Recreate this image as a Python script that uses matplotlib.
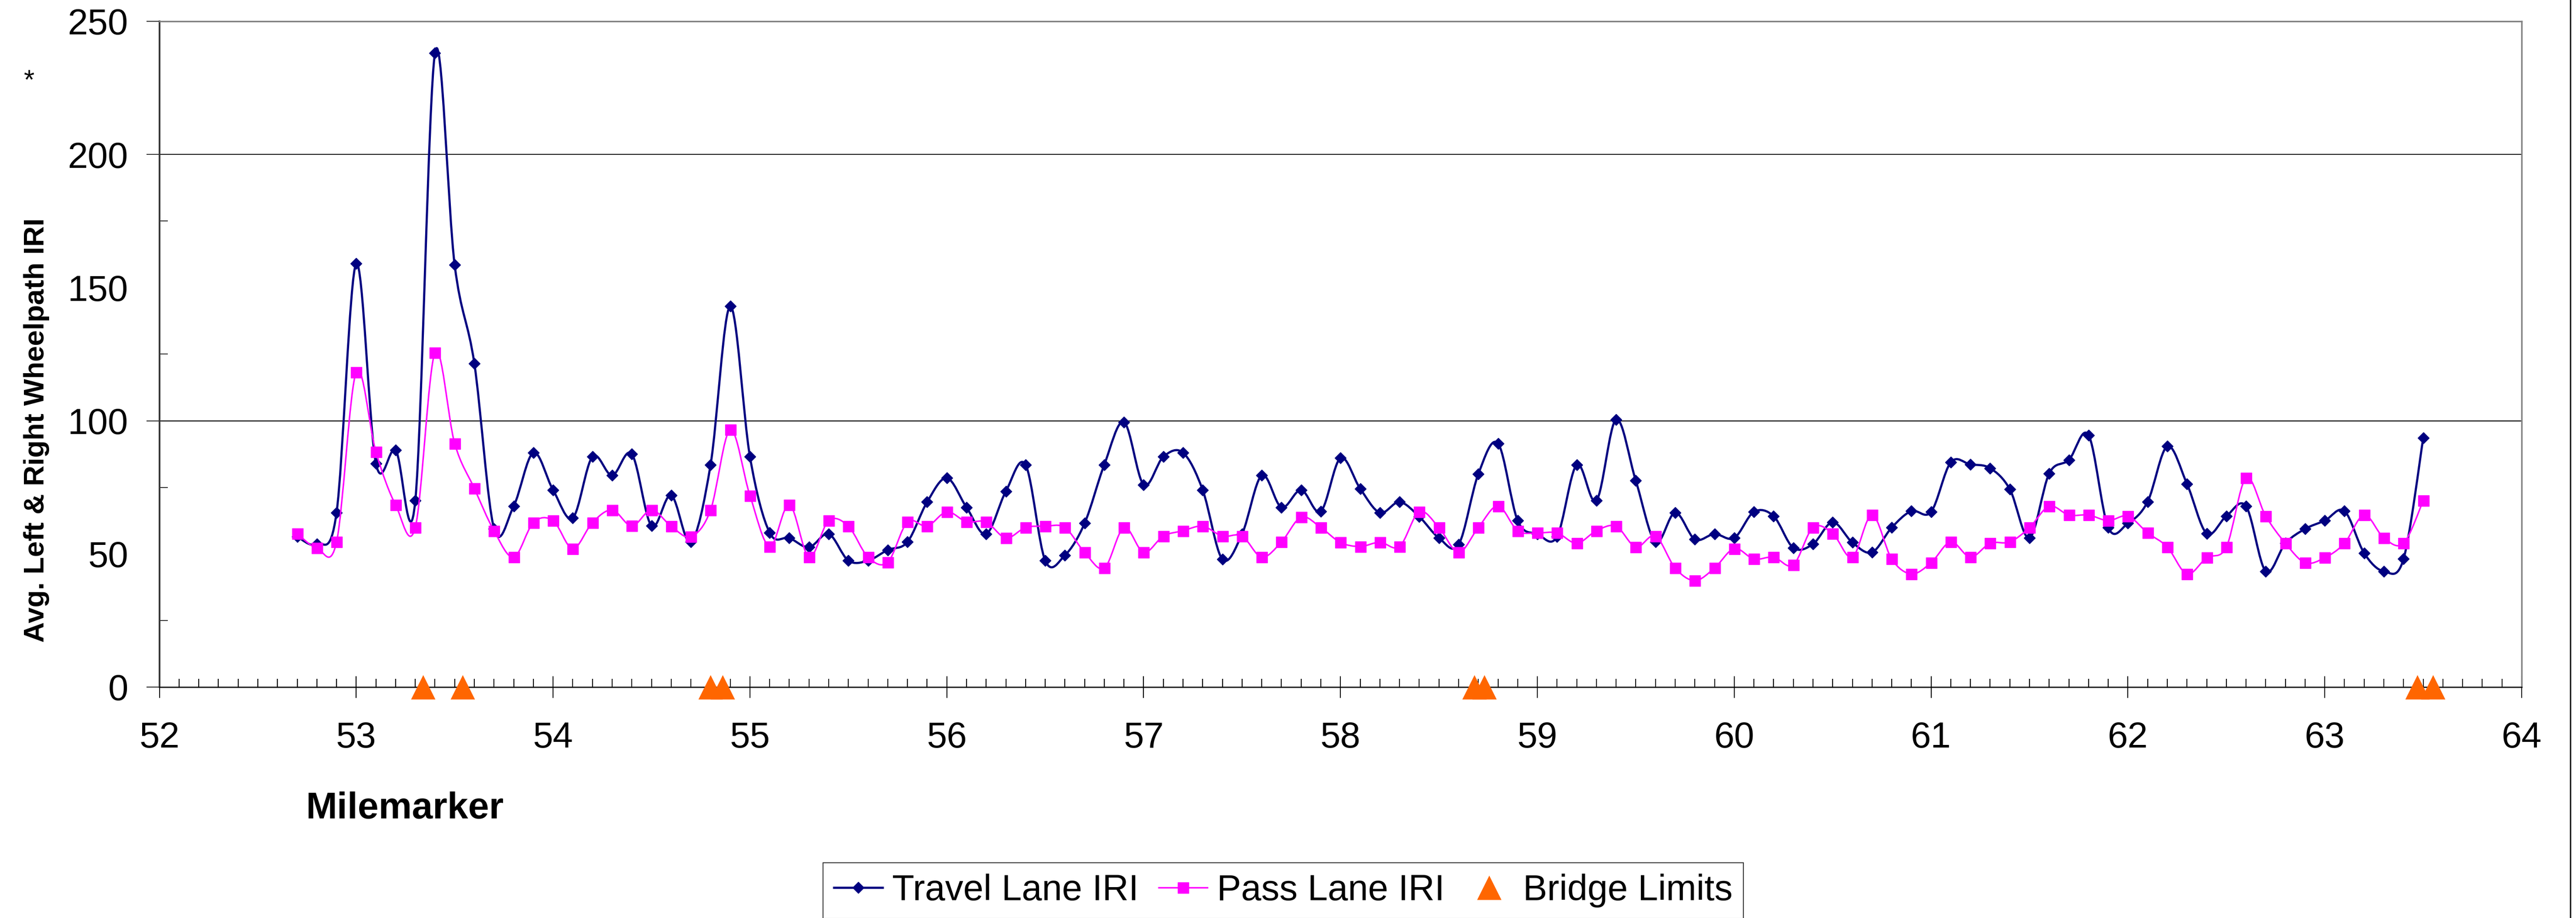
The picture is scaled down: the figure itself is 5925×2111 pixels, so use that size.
import numpy as np
import matplotlib
matplotlib.use("Agg")
import matplotlib.pyplot as plt
from matplotlib.path import Path
from matplotlib.patches import PathPatch
from matplotlib.lines import Line2D
from matplotlib.ticker import MultipleLocator, FixedLocator

plt.rcParams['font.family'] = ['Liberation Sans', 'DejaVu Sans']

# milemarker of each reading (every tenth of a mile)
milemarker = [
    52.7, 52.8, 52.9, 53.0, 53.1, 53.2, 53.3, 53.4, 53.5, 53.6,
    53.7, 53.8, 53.9, 54.0, 54.1, 54.2, 54.3, 54.4, 54.5, 54.6,
    54.7, 54.8, 54.9, 55.0, 55.1, 55.2, 55.3, 55.4, 55.5, 55.6,
    55.7, 55.8, 55.9, 56.0, 56.1, 56.2, 56.3, 56.4, 56.5, 56.6,
    56.7, 56.8, 56.9, 57.0, 57.1, 57.2, 57.3, 57.4, 57.5, 57.6,
    57.7, 57.8, 57.9, 58.0, 58.1, 58.2, 58.3, 58.4, 58.5, 58.6,
    58.7, 58.8, 58.9, 59.0, 59.1, 59.2, 59.3, 59.4, 59.5, 59.6,
    59.7, 59.8, 59.9, 60.0, 60.1, 60.2, 60.3, 60.4, 60.5, 60.6,
    60.7, 60.8, 60.9, 61.0, 61.1, 61.2, 61.3, 61.4, 61.5, 61.6,
    61.7, 61.8, 61.9, 62.0, 62.1, 62.2, 62.3, 62.4, 62.5, 62.6,
    62.7, 62.8, 62.9, 63.0, 63.1, 63.2, 63.3, 63.4, 63.5,
]

travel_iri = [
    56.5, 53.7, 65.5, 159.0, 84.0, 89.0, 70.0, 238.0, 158.5, 121.5,
    59.5, 68.0, 88.0, 74.0, 63.5, 86.5, 79.5, 87.5, 60.5, 72.0,
    54.5, 83.5, 143.0, 86.5, 58.0, 56.0, 52.5, 57.5, 47.5, 47.5,
    51.5, 54.5, 69.5, 78.5, 67.5, 57.5, 73.5, 83.5, 47.5, 49.5,
    61.5, 83.5, 99.5, 76.0, 86.5, 88.0, 74.0, 48.0, 57.5, 79.5,
    67.5, 74.0, 66.0, 86.0, 74.5, 65.5, 69.5, 64.0, 56.0, 53.5,
    80.0, 91.5, 62.5, 57.5, 56.5, 83.5, 70.0, 100.5, 77.5, 54.5,
    65.5, 55.5, 57.5, 56.0, 65.8, 64.2, 52.3, 53.7, 61.9, 54.3,
    50.6, 59.9, 66.1, 65.8, 84.4, 83.6, 82.2, 74.3, 56.0, 80.2,
    85.3, 94.6, 59.9, 61.5, 69.6, 90.4, 76.3, 57.7, 64.2, 67.9,
    43.5, 54.0, 59.4, 62.5, 66.1, 50.3, 43.5, 48.1, 93.5,
]

pass_iri = [
    57.7, 52.2, 54.5, 118.3, 88.3, 68.4, 60.0, 125.6, 91.5, 74.6,
    58.7, 48.8, 61.8, 62.5, 52.0, 61.8, 66.5, 60.5, 66.5, 60.4,
    56.5, 66.5, 96.6, 71.9, 52.8, 68.5, 48.9, 62.5, 60.4, 48.8,
    46.9, 62.0, 60.4, 65.8, 62.1, 62.0, 56.0, 59.9, 60.4, 59.9,
    50.6, 44.7, 59.9, 50.6, 56.7, 58.7, 60.4, 56.7, 56.7, 48.8,
    54.5, 63.8, 59.9, 54.3, 52.8, 54.4, 52.8, 65.8, 59.9, 50.6,
    59.9, 68.0, 58.7, 57.9, 57.9, 54.0, 58.7, 60.4, 52.6, 56.7,
    44.7, 40.0, 44.7, 52.0, 48.1, 48.8, 45.9, 59.9, 57.7, 48.8,
    64.6, 48.1, 42.5, 46.7, 54.5, 48.8, 54.0, 54.5, 59.9, 67.9,
    64.6, 64.6, 62.5, 64.2, 57.9, 52.6, 42.5, 48.6, 52.6, 78.5,
    64.2, 54.0, 46.7, 48.6, 54.0, 64.6, 56.0, 54.0, 70.0,
]

bridge_limits = [53.34, 53.54, 54.80, 54.86, 58.68, 58.73, 63.47, 63.55]
bridge_level = [0, 0, 0, 0, 0, 0, 0, 0]

y_ticks = [0, 50, 100, 150, 200, 250]
y_gridlines = [100, 200]

NAVY = "#000080"
MAGENTA = "#FF00FF"
ORANGE = "#FF6600"


def smooth_path(xs, ys):
    # Excel-style smoothed line: cubic Bezier through every point
    pts = np.column_stack([xs, ys]).astype(float)
    n = len(pts)
    verts = [pts[0]]
    codes = [Path.MOVETO]
    for i in range(n - 1):
        p0 = pts[max(i - 1, 0)]
        p1 = pts[i]
        p2 = pts[i + 1]
        p3 = pts[min(i + 2, n - 1)]
        verts += [p1 + (p2 - p0) / 6.0, p2 - (p3 - p1) / 6.0, p2]
        codes += [Path.CURVE4] * 3
    return Path(verts, codes)


fig = plt.figure(figsize=(59.25, 21.11), dpi=100)
ax = fig.add_axes([0.06187, 0.25154, 0.91703, 0.72525])

for g in y_gridlines:
    ax.axhline(g, color="black", lw=1.5, zorder=1)

ax.add_patch(PathPatch(smooth_path(milemarker, travel_iri), facecolor="none",
                       edgecolor=NAVY, lw=3.6, transform=ax.transData, zorder=3))
ax.plot(milemarker, travel_iri, linestyle="none", marker="D", ms=13,
        color=NAVY, zorder=4)

ax.add_patch(PathPatch(smooth_path(milemarker, pass_iri), facecolor="none",
                       edgecolor=MAGENTA, lw=2.5, transform=ax.transData, zorder=5))
ax.plot(milemarker, pass_iri, linestyle="none", marker="s", ms=18,
        color=MAGENTA, zorder=6)

ax.plot(bridge_limits, bridge_level, linestyle="none", marker="^", ms=41,
        color=ORANGE, mec="none", clip_on=False, zorder=10)

ax.set_xlim(52, 64)
ax.set_ylim(0, 250)
ax.xaxis.set_major_locator(MultipleLocator(1))
ax.xaxis.set_minor_locator(MultipleLocator(0.1))
ax.yaxis.set_major_locator(FixedLocator(y_ticks))
ax.yaxis.set_minor_locator(FixedLocator([25, 75, 125, 175]))

ax.tick_params(axis="x", which="major", direction="inout", length=36, width=1.5,
               labelsize=60, pad=38)
ax.tick_params(axis="x", which="minor", direction="in", length=14, width=1.5)
ax.tick_params(axis="y", which="major", direction="out", length=21.6, width=1.2,
               labelsize=60, pad=30)
ax.tick_params(axis="y", which="minor", direction="in", length=14, width=1.2)
for t, v in zip(ax.yaxis.get_major_ticks(), y_ticks):
    if v in (50, 150):
        t.tick1line.set_visible(False)

ax.spines["left"].set_color("#333333")
ax.spines["left"].set_linewidth(2.8)
ax.spines["bottom"].set_color("black")
ax.spines["bottom"].set_linewidth(2.0)
for side in ("top", "right"):
    ax.spines[side].set_color("#808080")
    ax.spines[side].set_linewidth(2.5)

fig.text(84 / 5925, 1 - 989 / 2111, "Avg. Left & Right Wheelpath IRI",
         rotation=90, ha="center", va="center", fontsize=47, fontweight="bold")
fig.text(703 / 5925, 1 - 1882 / 2111, "Milemarker", ha="left", va="baseline",
         fontsize=62, fontweight="bold")
fig.text(67 / 5925, 1 - 204 / 2111, "*", ha="center", va="baseline", fontsize=45)

# chart area border on the right
fig.add_artist(Line2D([5912 / 5925, 5912 / 5925], [0, 1], color="black", lw=2.2,
                      transform=fig.transFigure))

handles = [
    Line2D([], [], color=NAVY, lw=3.6, marker="D", ms=13),
    Line2D([], [], color=MAGENTA, lw=2.5, marker="s", ms=18),
    Line2D([], [], color=ORANGE, linestyle="none", marker="^", ms=41, mec="none"),
]
leg = fig.legend(handles, ["Travel Lane IRI", "Pass Lane IRI", "Bridge Limits"],
                 loc="upper left", bbox_to_anchor=(1893 / 5925, 1 - 1984 / 2111),
                 ncol=3, fontsize=60, frameon=True, fancybox=False, shadow=False,
                 borderpad=0.3, handlelength=1.34, handletextpad=0.27,
                 columnspacing=0.55, borderaxespad=0, markerscale=1)
leg.get_frame().set_edgecolor("black")
leg.get_frame().set_linewidth(1.5)

fig.savefig("out.png", dpi=100)
